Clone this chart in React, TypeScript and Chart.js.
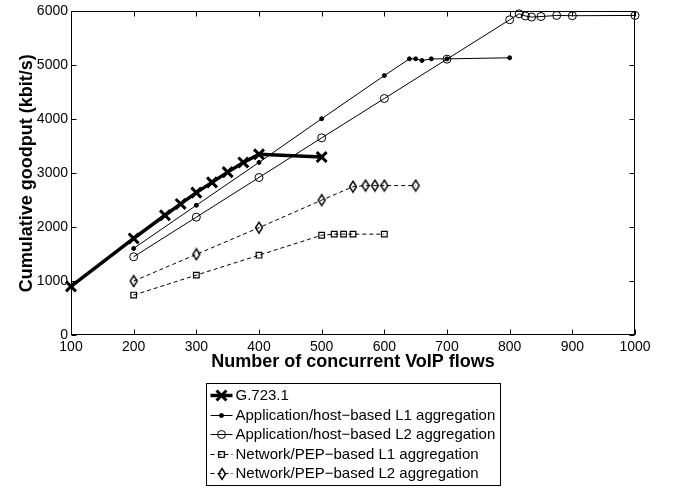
import React, { useEffect, useRef } from "react";
import { Chart, registerables } from "chart.js";

Chart.register(...registerables);

// ---- data ----
const xTickValues = [100, 200, 300, 400, 500, 600, 700, 800, 900, 1000];
const yTickValues = [0, 1000, 2000, 3000, 4000, 5000, 6000];

const xTitle = "Number of concurrent VoIP flows";
const yTitle = "Cumulative goodput (kbit/s)";

const seriesNames = [
  "G.723.1",
  "Application/host\u2212based L1 aggregation",
  "Application/host\u2212based L2 aggregation",
  "Network/PEP\u2212based L1 aggregation",
  "Network/PEP\u2212based L2 aggregation",
];

const g723X = [100, 200, 250, 275, 300, 325, 350, 375, 400, 500];
const g723Y = [900, 1790, 2220, 2430, 2640, 2830, 3020, 3200, 3350, 3300];

const appL1X = [200, 300, 400, 500, 600, 640, 650, 660, 675, 700, 800];
const appL1Y = [1605, 2405, 3200, 4010, 4810, 5120, 5120, 5090, 5120, 5120, 5140];

const appL2X = [200, 300, 400, 500, 600, 700, 800, 815, 825, 835, 850, 875, 900, 1000];
const appL2Y = [1450, 2185, 2920, 3655, 4385, 5115, 5845, 5955, 5915, 5895, 5905, 5925, 5920, 5925];

const netL1X = [200, 300, 400, 500, 520, 535, 550, 600];
const netL1Y = [740, 1110, 1480, 1850, 1870, 1870, 1870, 1870];

const netL2X = [200, 300, 400, 500, 550, 570, 585, 600, 650];
const netL2Y = [1000, 1495, 1990, 2500, 2750, 2770, 2770, 2770, 2770];

const toPoints = (xs: number[], ys: number[]) => xs.map((x, i) => ({ x, y: ys[i] }));

const FONT = '"Liberation Sans", Arial, Helvetica, sans-serif';

function makeDiamond(): HTMLCanvasElement {
  const c = document.createElement("canvas");
  c.width = 10;
  c.height = 14;
  const g = c.getContext("2d")!;
  g.strokeStyle = "#000";
  g.lineWidth = 1.4;
  g.beginPath();
  g.moveTo(5, 1.5);
  g.lineTo(8.5, 7);
  g.lineTo(5, 12.5);
  g.lineTo(1.5, 7);
  g.closePath();
  g.stroke();
  return c;
}

function drawMarker(ctx: CanvasRenderingContext2D, d: any, x: number, y: number) {
  const r = d.pointRadius;
  const style = d.pointStyle;
  ctx.save();
  ctx.setLineDash([]);
  ctx.strokeStyle = d.pointBorderColor || "#000";
  ctx.lineWidth = d.pointBorderWidth || 1;
  if (style === "crossRot") {
    const o = Math.SQRT1_2 * r;
    ctx.beginPath();
    ctx.moveTo(x - o, y - o);
    ctx.lineTo(x + o, y + o);
    ctx.moveTo(x - o, y + o);
    ctx.lineTo(x + o, y - o);
    ctx.stroke();
  } else if (style === "circle") {
    ctx.beginPath();
    ctx.arc(x, y, r, 0, Math.PI * 2);
    if (d.pointBackgroundColor && d.pointBackgroundColor !== "rgba(0,0,0,0)") {
      ctx.fillStyle = d.pointBackgroundColor;
      ctx.fill();
    }
    ctx.stroke();
  } else if (style === "rect") {
    const s = Math.SQRT1_2 * r;
    ctx.strokeRect(x - s, y - s, 2 * s, 2 * s);
  } else if (style && (style as any).width) {
    const im = style as HTMLCanvasElement;
    ctx.drawImage(im, Math.round(x - im.width / 2), Math.round(y - im.height / 2));
  }
  ctx.restore();
}

const frameTicksPlugin = {
  id: "frameTicks",
  afterDatasetsDraw(chart: any) {
    const { ctx, chartArea, scales } = chart;
    const { left, right, top, bottom } = chartArea;
    const L = Math.round(left) + 0.5;
    const R = Math.round(right) - 0.5;
    const T = Math.round(top) + 0.5;
    const B = Math.round(bottom) - 0.5;
    const len = 5;
    ctx.save();
    ctx.strokeStyle = "#000";
    ctx.lineWidth = 1;
    ctx.setLineDash([]);
    ctx.beginPath();
    xTickValues.forEach((v) => {
      const px = Math.round(scales.x.getPixelForValue(v)) + 0.5;
      ctx.moveTo(px, B);
      ctx.lineTo(px, B - len);
      ctx.moveTo(px, T);
      ctx.lineTo(px, T + len);
    });
    yTickValues.forEach((v) => {
      const py = Math.round(scales.y.getPixelForValue(v)) + 0.5;
      ctx.moveTo(L, py);
      ctx.lineTo(L + len, py);
      ctx.moveTo(R, py);
      ctx.lineTo(R - len, py);
    });
    ctx.stroke();
    ctx.strokeRect(L, T, R - L, B - T);
    ctx.restore();
  },
};

const legendPlugin = {
  id: "matlabLegend",
  afterDraw(chart: any) {
    const { ctx, chartArea } = chart;
    const ds = chart.data.datasets;
    ctx.save();
    ctx.font = `15px ${FONT}`;
    const textW = Math.max(...ds.map((d: any) => ctx.measureText(d.label).width));
    const sampleW = 22;
    const padL = 4;
    const gap = 3;
    const padR = 5;
    const rowH = 19.5;
    const boxW = Math.round(padL + sampleW + gap + textW + padR);
    const boxH = Math.round(rowH * ds.length + 4);
    const cx = (chartArea.left + chartArea.right) / 2;
    const bx = Math.round(cx - boxW / 2) + 0.5;
    const by = 383.5;
    ctx.fillStyle = "#fff";
    ctx.fillRect(bx, by, boxW, boxH);
    ctx.strokeStyle = "#000";
    ctx.lineWidth = 1;
    ctx.strokeRect(bx, by, boxW, boxH);
    ds.forEach((d: any, i: number) => {
      const y = Math.round(by + 2 + rowH * (i + 0.5)) + 0.5;
      ctx.save();
      ctx.beginPath();
      ctx.setLineDash(d.borderDash || []);
      ctx.lineWidth = d.borderWidth;
      ctx.strokeStyle = "#000";
      ctx.moveTo(bx + padL, y);
      ctx.lineTo(bx + padL + sampleW, y);
      ctx.stroke();
      ctx.restore();
      drawMarker(ctx, d, bx + padL + sampleW / 2, y);
      ctx.fillStyle = "#000";
      ctx.textBaseline = "middle";
      ctx.textAlign = "left";
      ctx.fillText(d.label, bx + padL + sampleW + gap, y + 0.5);
    });
    ctx.restore();
  },
};

export default function App() {
  const ref = useRef<HTMLCanvasElement | null>(null);

  useEffect(() => {
    if (!ref.current) return;
    const diamond = makeDiamond();
    const common = {
      borderColor: "#000",
      pointBorderColor: "#000",
      fill: false,
      tension: 0,
      clip: false as any,
    };
    const chart = new Chart(ref.current, {
      type: "line",
      data: {
        datasets: [
          {
            ...common,
            label: seriesNames[0],
            data: toPoints(g723X, g723Y),
            borderWidth: 3.5,
            pointStyle: "crossRot",
            pointRadius: 7,
            pointBorderWidth: 3,
            pointBackgroundColor: "#000",
          },
          {
            ...common,
            label: seriesNames[1],
            data: toPoints(appL1X, appL1Y),
            borderWidth: 1,
            pointStyle: "circle",
            pointRadius: 2,
            pointBorderWidth: 1,
            pointBackgroundColor: "#000",
          },
          {
            ...common,
            label: seriesNames[2],
            data: toPoints(appL2X, appL2Y),
            borderWidth: 1,
            pointStyle: "circle",
            pointRadius: 4,
            pointBorderWidth: 1,
            pointBackgroundColor: "rgba(0,0,0,0)",
          },
          {
            ...common,
            label: seriesNames[3],
            data: toPoints(netL1X, netL1Y),
            borderWidth: 1,
            borderDash: [4, 3],
            pointStyle: "rect",
            pointRadius: 4,
            pointBorderWidth: 1.2,
            pointBackgroundColor: "rgba(0,0,0,0)",
          },
          {
            ...common,
            label: seriesNames[4],
            data: toPoints(netL2X, netL2Y),
            borderWidth: 1,
            borderDash: [4, 3],
            pointStyle: diamond as any,
            pointRadius: 4,
            pointBorderWidth: 1,
            pointBackgroundColor: "rgba(0,0,0,0)",
          },
        ],
      },
      options: {
        responsive: false,
        animation: false,
        events: [],
        layout: { padding: { left: 0, top: 11, right: 41, bottom: 488 - 335 - 38 } },
        plugins: {
          legend: { display: false },
          tooltip: { enabled: false },
        },
        scales: {
          x: {
            type: "linear",
            min: 100,
            max: 1000,
            afterBuildTicks: (s: any) => {
              s.ticks = xTickValues.map((v) => ({ value: v }));
            },
            afterFit: (s: any) => {
              s.height = 38;
            },
            grid: { display: false, drawTicks: false },
            border: { display: false },
            ticks: {
              color: "#000",
              font: { family: FONT, size: 14 },
              padding: 4,
              maxRotation: 0,
              autoSkip: false,
              callback: (v: any) => String(v),
            },
            title: {
              display: true,
              text: xTitle,
              color: "#000",
              font: { family: FONT, size: 18, weight: "bold" },
              padding: { top: 0, bottom: 0 },
            },
          },
          y: {
            type: "linear",
            min: 0,
            max: 6000,
            afterBuildTicks: (s: any) => {
              s.ticks = yTickValues.map((v) => ({ value: v }));
            },
            afterFit: (s: any) => {
              s.width = 71;
            },
            grid: { display: false, drawTicks: false },
            border: { display: false },
            ticks: {
              color: "#000",
              font: { family: FONT, size: 14 },
              padding: 3,
              autoSkip: false,
              callback: (v: any) => String(v),
            },
            title: {
              display: true,
              text: yTitle,
              color: "#000",
              font: { family: FONT, size: 18, weight: "bold" },
              padding: { top: 16, bottom: 0 },
            },
          },
        },
      },
      plugins: [frameTicksPlugin, legendPlugin],
    });
    return () => chart.destroy();
  }, []);

  return (
    <div style={{ position: "absolute", left: 0, top: 0, width: 676, height: 488, background: "#fff" }}>
      <canvas ref={ref} width={676} height={488} style={{ display: "block" }} />
    </div>
  );
}
